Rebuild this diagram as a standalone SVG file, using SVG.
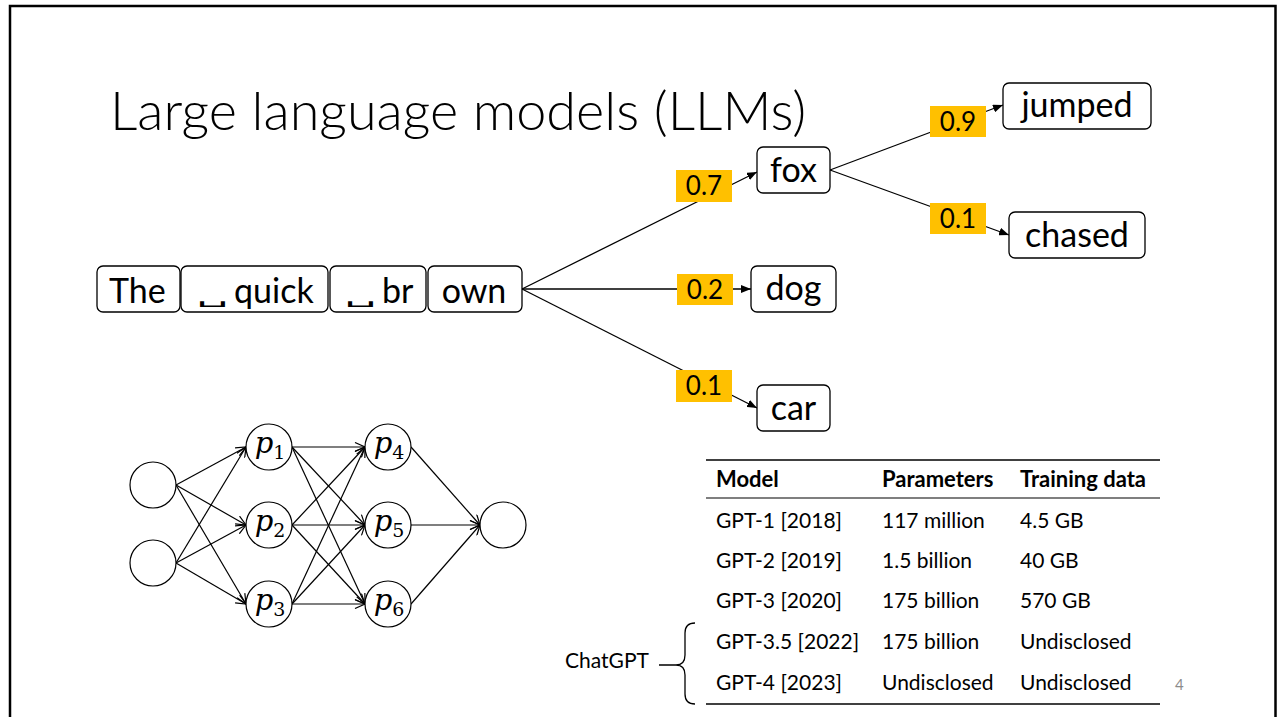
<svg xmlns="http://www.w3.org/2000/svg" width="1277" height="717" viewBox="0 0 1277 717">
  <style>
    .frame { fill: #ffffff; stroke: #000000; stroke-width: 2.5; }
    .title { font-family: Lato, "Open Sans", sans-serif; font-weight: 300; font-size: 54px; fill: #000; }
    .box { fill: #ffffff; stroke: #000000; stroke-width: 1.3; }
    .tok { font-family: Lato, "DejaVu Sans", sans-serif; font-size: 34px; fill: #000; }
    .sp { font-family: "DejaVu Sans", sans-serif; font-size: 22px; fill: #000; }
    .prob { fill: #ffc000; }
    .probt { font-family: Lato, sans-serif; font-size: 26px; fill: #000; text-anchor: middle; }
    .edge { stroke: #000; stroke-width: 1.3; fill: none; marker-end: url(#tri); }
    .nn { stroke: #000; stroke-width: 1.2; fill: none; marker-end: url(#vee); }
    .neuron { fill: #fff; stroke: #000; stroke-width: 1.2; }
    .pl { font-family: "DejaVu Serif", serif; font-size: 29px; fill: #000; text-anchor: middle; }
    .sub { font-size: 19px; }
    .cell { font-family: Lato, sans-serif; font-size: 21px; fill: #000; }
    .head { font-family: Lato, sans-serif; font-size: 22px; font-weight: bold; fill: #000; }
    .rule { stroke: #000; }
  </style>
  <defs>
    <marker id="tri" viewBox="0 0 10 8" refX="10" refY="4" markerWidth="10" markerHeight="8" markerUnits="userSpaceOnUse" orient="auto">
      <path d="M0,0 L10,4 L0,8 Z" fill="#000"/>
    </marker>
    <marker id="vee" viewBox="0 0 12 10" refX="11" refY="5" markerWidth="12" markerHeight="10" markerUnits="userSpaceOnUse" orient="auto">
      <path d="M1,0.5 L11,5 L1,9.5" fill="none" stroke="#000" stroke-width="1.2"/>
    </marker>
  </defs>

  <!-- slide frame -->
  <rect class="frame" x="10" y="6" width="1265.5" height="730"/>

  <text class="title" x="110" y="130">Large language models (LLMs)</text>

  <!-- tree connectors -->
  <g id="tree-edges">
    <line class="edge" x1="522" y1="289" x2="757" y2="172"/>
    <line class="edge" x1="522" y1="289" x2="751" y2="289"/>
    <line class="edge" x1="522" y1="289" x2="757" y2="408"/>
    <line class="edge" x1="830" y1="170" x2="1003" y2="105"/>
    <line class="edge" x1="830" y1="170" x2="1009" y2="235"/>
  </g>

  <!-- probability labels -->
  <g id="p07"><rect class="prob" x="676" y="170" width="56" height="32"/><text class="probt" x="704" y="195">0.7</text></g>
  <g id="p02"><rect class="prob" x="677" y="274" width="56" height="31"/><text class="probt" x="705" y="299">0.2</text></g>
  <g id="p01a"><rect class="prob" x="676" y="370" width="56" height="32"/><text class="probt" x="704" y="395">0.1</text></g>
  <g id="p09"><rect class="prob" x="930" y="106" width="56" height="31"/><text class="probt" x="958" y="131">0.9</text></g>
  <g id="p01b"><rect class="prob" x="930" y="203" width="56" height="31"/><text class="probt" x="958" y="228">0.1</text></g>

  <!-- input tokens (␣ marks a leading space, stretched wide) -->
  <g id="tok-the"><rect class="box" x="97" y="266" width="83" height="46" rx="6"/><text class="tok" x="109" y="303">The</text></g>
  <g id="tok-quick"><rect class="box" x="181" y="266" width="147" height="46" rx="6"/><text class="sp" transform="translate(197,303) scale(2.25,0.8)">␣</text><text class="tok" x="234" y="303">quick</text></g>
  <g id="tok-br"><rect class="box" x="330" y="266" width="96" height="46" rx="6"/><text class="sp" transform="translate(345,303) scale(2.25,0.8)">␣</text><text class="tok" x="382" y="303">br</text></g>
  <g id="tok-own"><rect class="box" x="428" y="266" width="94" height="46" rx="6"/><text class="tok" x="474" y="303" text-anchor="middle">own</text></g>

  <!-- candidate next tokens -->
  <g id="fox"><rect class="box" x="757" y="147" width="73" height="46" rx="6"/><text class="tok" x="793.5" y="181.5" text-anchor="middle">fox</text></g>
  <g id="dog"><rect class="box" x="751" y="266" width="85" height="46" rx="6"/><text class="tok" x="793.5" y="300" text-anchor="middle">dog</text></g>
  <g id="car"><rect class="box" x="757" y="385" width="73" height="46" rx="6"/><text class="tok" x="793.5" y="420" text-anchor="middle">car</text></g>
  <g id="jumped"><rect class="box" x="1003" y="83" width="148" height="46" rx="6"/><text class="tok" x="1077" y="117" text-anchor="middle">jumped</text></g>
  <g id="chased"><rect class="box" x="1009" y="212" width="136" height="46" rx="6"/><text class="tok" x="1077" y="247" text-anchor="middle">chased</text></g>

  <!-- neural network connectors -->
  <g id="nn-edges">
    <line class="nn" x1="176" y1="485" x2="246" y2="447"/>
    <line class="nn" x1="176" y1="485" x2="246" y2="525"/>
    <line class="nn" x1="176" y1="485" x2="246" y2="604"/>
    <line class="nn" x1="176" y1="563" x2="246" y2="447"/>
    <line class="nn" x1="176" y1="563" x2="246" y2="525"/>
    <line class="nn" x1="176" y1="563" x2="246" y2="604"/>
    <line class="nn" x1="292" y1="447" x2="365" y2="447"/>
    <line class="nn" x1="292" y1="447" x2="365" y2="525"/>
    <line class="nn" x1="292" y1="447" x2="365" y2="604"/>
    <line class="nn" x1="292" y1="525" x2="365" y2="447"/>
    <line class="nn" x1="292" y1="525" x2="365" y2="525"/>
    <line class="nn" x1="292" y1="525" x2="365" y2="604"/>
    <line class="nn" x1="292" y1="604" x2="365" y2="447"/>
    <line class="nn" x1="292" y1="604" x2="365" y2="525"/>
    <line class="nn" x1="292" y1="604" x2="365" y2="604"/>
    <line class="nn" x1="411" y1="447" x2="480" y2="525"/>
    <line class="nn" x1="411" y1="525" x2="480" y2="525"/>
    <line class="nn" x1="411" y1="604" x2="480" y2="525"/>
  </g>

  <!-- neurons -->
  <g id="in1"><circle class="neuron" cx="153" cy="485" r="23"/></g>
  <g id="in2"><circle class="neuron" cx="153" cy="563" r="23"/></g>
  <g id="p1"><circle class="neuron" cx="269" cy="447" r="23"/><text class="pl" x="270" y="453"><tspan font-style="italic">p</tspan><tspan class="sub" dy="6">1</tspan></text></g>
  <g id="p2"><circle class="neuron" cx="269" cy="525" r="23"/><text class="pl" x="270" y="531"><tspan font-style="italic">p</tspan><tspan class="sub" dy="6">2</tspan></text></g>
  <g id="p3"><circle class="neuron" cx="269" cy="604" r="23"/><text class="pl" x="270" y="610"><tspan font-style="italic">p</tspan><tspan class="sub" dy="6">3</tspan></text></g>
  <g id="p4"><circle class="neuron" cx="388" cy="447" r="23"/><text class="pl" x="389" y="453"><tspan font-style="italic">p</tspan><tspan class="sub" dy="6">4</tspan></text></g>
  <g id="p5"><circle class="neuron" cx="388" cy="525" r="23"/><text class="pl" x="389" y="531"><tspan font-style="italic">p</tspan><tspan class="sub" dy="6">5</tspan></text></g>
  <g id="p6"><circle class="neuron" cx="388" cy="604" r="23"/><text class="pl" x="389" y="610"><tspan font-style="italic">p</tspan><tspan class="sub" dy="6">6</tspan></text></g>
  <g id="out"><circle class="neuron" cx="503" cy="525" r="23"/></g>

  <!-- model table -->
  <g id="table">
    <line class="rule" x1="706" y1="460" x2="1160" y2="460" stroke-width="1.6"/>
    <line class="rule" x1="706" y1="498" x2="1160" y2="498" stroke-width="1.1"/>
    <line class="rule" x1="706" y1="704" x2="1160" y2="704" stroke-width="1.6"/>
    <text class="head" x="716" y="487">Model</text>
    <text class="head" x="882" y="487">Parameters</text>
    <text class="head" x="1020" y="487">Training data</text>
    <text class="cell" x="716" y="528">GPT-1 [2018]</text>
    <text class="cell" x="882" y="528">117 million</text>
    <text class="cell" x="1020" y="528">4.5 GB</text>
    <text class="cell" x="716" y="568">GPT-2 [2019]</text>
    <text class="cell" x="882" y="568">1.5 billion</text>
    <text class="cell" x="1020" y="568">40 GB</text>
    <text class="cell" x="716" y="608">GPT-3 [2020]</text>
    <text class="cell" x="882" y="608">175 billion</text>
    <text class="cell" x="1020" y="608">570 GB</text>
    <text class="cell" x="716" y="649">GPT-3.5 [2022]</text>
    <text class="cell" x="882" y="649">175 billion</text>
    <text class="cell" x="1020" y="649">Undisclosed</text>
    <text class="cell" x="716" y="690">GPT-4 [2023]</text>
    <text class="cell" x="882" y="690">Undisclosed</text>
    <text class="cell" x="1020" y="690">Undisclosed</text>
  </g>

  <!-- ChatGPT brace -->
  <g id="chatgpt">
    <text class="cell" x="565" y="668" font-size="22.5">ChatGPT</text>
    <path d="M695,623 Q685,623 685,633 L685,655 Q685,665 676,665 L659,665 M676,665 Q685,665 685,675 L685,694 Q685,704 695,704" fill="none" stroke="#000" stroke-width="1.3"/>
  </g>

  <text x="1175" y="690" font-family="Lato, sans-serif" font-size="15" fill="#8c8c8c">4</text>
</svg>
